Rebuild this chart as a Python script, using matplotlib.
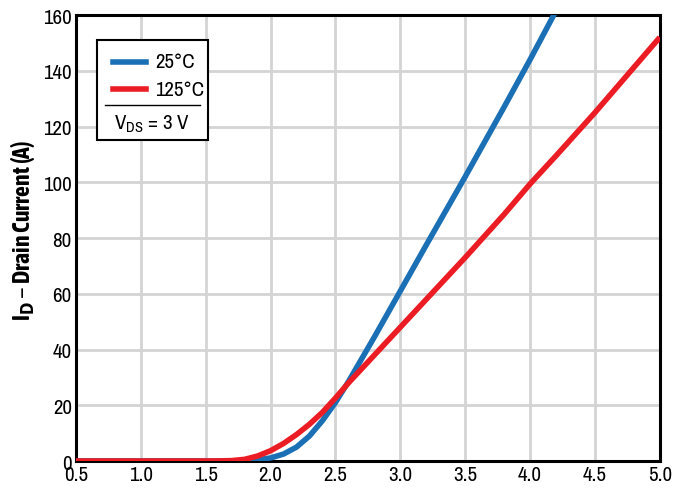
import matplotlib
matplotlib.use('Agg')
import matplotlib.pyplot as plt
from matplotlib import font_manager

# prefer a condensed face if one is installed, and one with a bold weight for the label
fonts = font_manager.fontManager.ttflist
narrow = sorted({f.name for f in fonts if 'Narrow' in f.name or 'Condensed' in f.name})
narrow_bold = sorted({f.name for f in fonts
                      if ('Narrow' in f.name or 'Condensed' in f.name)
                      and (f.weight == 'bold' or (isinstance(f.weight, int) and f.weight >= 600))})
plt.rcParams['font.family'] = (narrow[:1] if narrow else []) + ['DejaVu Sans']
plt.rcParams['font.stretch'] = 'condensed'
label_family = (narrow_bold[:1] if narrow_bold else narrow[:1]) + ['DejaVu Sans']

# gate-source voltage (V) and drain current (A)
vgs = [0.5, 1.0, 1.5, 1.6, 1.7, 1.8, 1.9, 2.0, 2.1, 2.2, 2.3, 2.4, 2.5, 2.6, 2.7, 2.8,
       3.0, 3.2, 3.5, 3.8, 4.0, 4.2, 4.5, 5.0]
id_25 = [0, 0, 0, 0.0, 0.02, 0.12, 0.4, 1.1, 2.5, 5.0, 9.0, 14.5, 21.0, 28.5, 36.5, 44.5,
         61.0, 77.5, 102.0, 127.0, 144.0, 161.5, None, None]
id_125 = [0, 0, 0, 0.03, 0.15, 0.6, 1.8, 3.7, 6.3, 9.5, 13.2, 17.5, 22.6, 28.0, 33.0, 38.0,
          48.0, 58.0, 73.0, 88.5, 99.4, 109.5, 125.0, 152.0]

xticks = [0.5, 1.0, 1.5, 2.0, 2.5, 3.0, 3.5, 4.0, 4.5, 5.0]
yticks = [0, 20, 40, 60, 80, 100, 120, 140, 160]

blue = '#1a6fb5'
red = '#ec1c24'

fig = plt.figure(figsize=(6.86, 4.89), dpi=100)
ax = fig.add_axes([0.1108, 0.0552, 0.851, 0.912])

x25 = [x for x, y in zip(vgs, id_25) if y is not None]
y25 = [y for y in id_25 if y is not None]
ax.plot(x25, y25, color=blue, lw=4, solid_capstyle='butt', zorder=3)
ax.plot(vgs, id_125, color=red, lw=4, solid_capstyle='butt', zorder=4)

ax.set_xlim(0.5, 5.0)
ax.set_ylim(0, 160)
ax.set_xticks(xticks)
ax.set_xticklabels(['%.1f' % v for v in xticks])
ax.set_yticks(yticks)
ax.grid(True, color='#d4d4d4', lw=2)
ax.set_axisbelow(True)
for s in ax.spines.values():
    s.set_linewidth(2.2)
ax.tick_params(length=0, labelsize=15)
ax.tick_params(axis='x', pad=3)
ax.tick_params(axis='y', pad=3)
ax.set_ylabel('I$_\\mathbf{D}$ – Drain Current (A)', fontsize=17, fontweight='bold',
              family=label_family)
ax.yaxis.set_label_coords(-0.066, 0.52)

# legend box with test condition
tr = ax.transAxes
ax.add_patch(plt.Rectangle((0.036, 0.72), 0.19, 0.224, transform=tr, fill=True,
                           facecolor='white', edgecolor='black', lw=1.5, zorder=6))
ax.plot([0.064, 0.12], [0.895, 0.895], transform=tr, color=blue, lw=4, zorder=7)
ax.plot([0.064, 0.12], [0.834, 0.834], transform=tr, color=red, lw=4, zorder=7)
ax.text(0.135, 0.895, '25°C', transform=tr, fontsize=15, va='center', zorder=7)
ax.text(0.135, 0.834, '125°C', transform=tr, fontsize=15, va='center', zorder=7)
ax.plot([0.05, 0.213], [0.798, 0.798], transform=tr, color='black', lw=1, zorder=7)
ax.text(0.13, 0.758, 'V$_\\mathregular{DS}$ = 3 V', transform=tr, fontsize=15,
        ha='center', va='center', zorder=7)

fig.savefig('out.png', dpi=100)
